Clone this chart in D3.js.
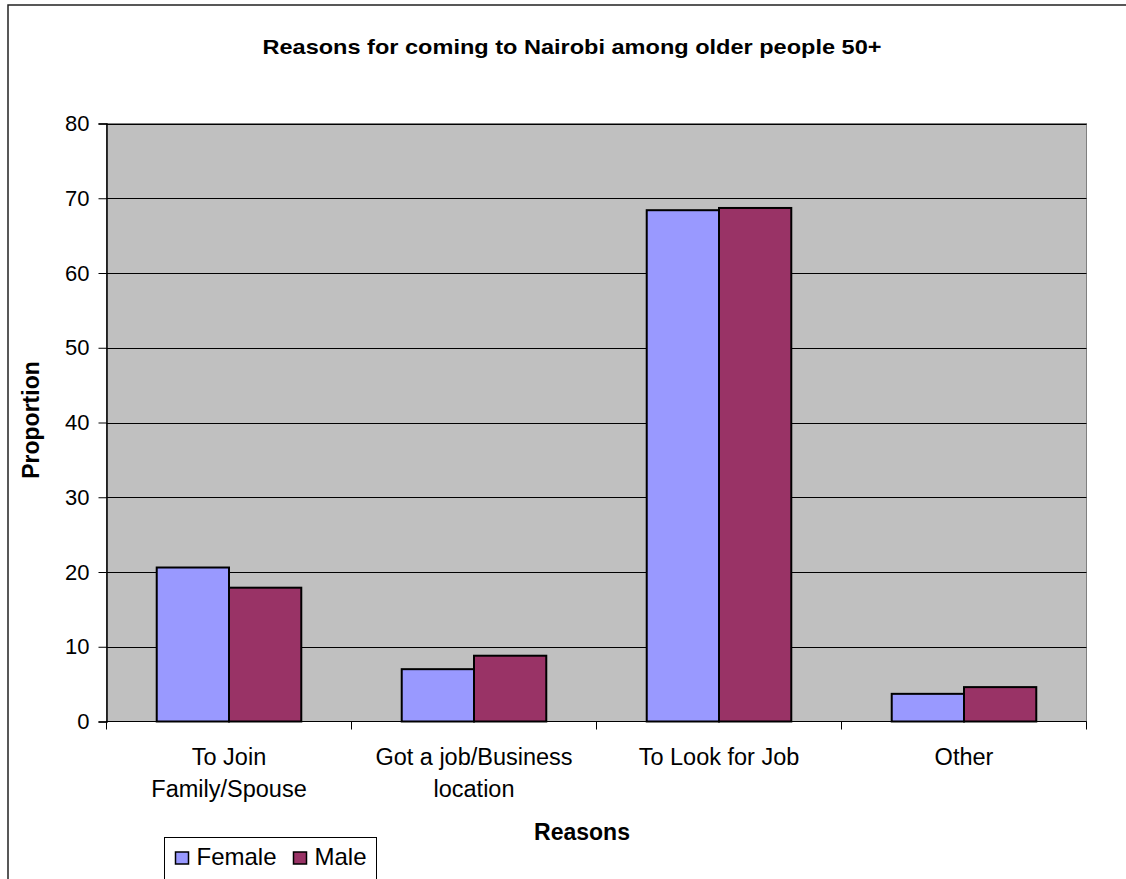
<!DOCTYPE html>
<html>
<head>
<meta charset="utf-8">
<script src="https://cdn.jsdelivr.net/npm/d3@7"></script>
<style>
  html, body { margin: 0; padding: 0; background: #fff; }
  svg { display: block; font-family: "Liberation Sans", Arial, sans-serif; }
</style>
</head>
<body>
<svg id="chart" width="1126" height="879"></svg>
<script>
// Reasons for coming to Nairobi, by sex (proportion, %)
const categories = [["To Join", "Family/Spouse"], ["Got a job/Business", "location"], ["To Look for Job"], ["Other"]];
const seriesNames = ["Female", "Male"];
const femaleValues = [20.6, 7.0, 68.4, 3.7];
const maleValues = [17.9, 8.8, 68.7, 4.6];
const yTicks = [0, 10, 20, 30, 40, 50, 60, 70, 80];
const colors = ["#9999ff", "#993366"];

const svg = d3.select("#chart");
const plot = { left: 106.5, top: 123.5, right: 1086.5, bottom: 721.5 };

// Outer chart frame
svg.append("rect")
  .attr("x", 8).attr("y", 5)
  .attr("width", 1126).attr("height", 900)
  .attr("fill", "#fff").attr("stroke", "#222").attr("stroke-width", 1.5);

const x = d3.scaleBand()
  .domain(d3.range(categories.length))
  .range([plot.left, plot.right]);
const xInner = d3.scaleBand()
  .domain(seriesNames)
  .range([0, x.bandwidth() * 0.59]);
const y = d3.scaleLinear().domain([0, 80]).range([plot.bottom, plot.top]);

// Plot background
svg.append("rect")
  .attr("x", plot.left).attr("y", plot.top)
  .attr("width", plot.right - plot.left).attr("height", plot.bottom - plot.top)
  .attr("fill", "#c0c0c0").attr("stroke", "#808080").attr("stroke-width", 1);

// Gridlines
svg.append("g").selectAll("line")
  .data(yTicks.filter(t => t > 0))
  .join("line")
  .attr("x1", plot.left).attr("x2", plot.right)
  .attr("y1", d => Math.round(y(d)) + 0.5).attr("y2", d => Math.round(y(d)) + 0.5)
  .attr("stroke", "#000").attr("stroke-width", 1);

// Y axis
const yAxis = svg.append("g")
  .attr("transform", `translate(${plot.left},0)`)
  .call(d3.axisLeft(y).tickValues(yTicks).tickSize(8).tickPadding(9));
yAxis.attr("font-size", null).attr("font-family", null);
yAxis.select(".domain").attr("stroke", "#000").attr("stroke-width", 1.5);
yAxis.selectAll(".tick line").attr("stroke", "#000");
yAxis.selectAll(".tick text")
  .attr("font-size", 22).attr("fill", "#000");

// X axis
const xAxisG = svg.append("g").attr("transform", `translate(0,${plot.bottom})`);
xAxisG.append("line")
  .attr("x1", plot.left).attr("x2", plot.right)
  .attr("y1", 0).attr("y2", 0)
  .attr("stroke", "#000").attr("stroke-width", 1.2);
xAxisG.selectAll("line.tk")
  .data(d3.range(categories.length + 1))
  .join("line").attr("class", "tk")
  .attr("x1", i => plot.left + i * x.step()).attr("x2", i => plot.left + i * x.step())
  .attr("y1", 0).attr("y2", 8)
  .attr("stroke", "#000").attr("stroke-width", 1);

// Category labels
svg.append("g").selectAll("text")
  .data(categories)
  .join("text")
  .attr("text-anchor", "middle")
  .attr("font-size", 23.5).attr("fill", "#000")
  .attr("transform", (d, i) => `translate(${x(i) + x.bandwidth() / 2},765)`)
  .each(function (lines) {
    d3.select(this).selectAll("tspan").data(lines).join("tspan")
      .attr("x", 0).attr("dy", (l, j) => j === 0 ? 0 : 32).text(l => l);
  });

// Bars
const series = [femaleValues, maleValues];
const groupOffset = (x.bandwidth() - xInner.range()[1]) / 2;
seriesNames.forEach((name, s) => {
  svg.append("g").selectAll("rect")
    .data(series[s])
    .join("rect")
    .attr("x", (d, i) => x(i) + groupOffset + xInner(name))
    .attr("y", d => y(d))
    .attr("width", xInner.bandwidth())
    .attr("height", d => plot.bottom - y(d))
    .attr("fill", colors[s])
    .attr("stroke", "#000").attr("stroke-width", 2);
});

// Title
svg.append("text")
  .attr("x", 572).attr("y", 54)
  .attr("text-anchor", "middle")
  .attr("font-size", 21).attr("font-weight", "bold")
  .attr("textLength", 619).attr("lengthAdjust", "spacingAndGlyphs")
  .text("Reasons for coming to Nairobi among older people 50+");

// Axis titles
svg.append("text")
  .attr("transform", "translate(39,420) rotate(-90)")
  .attr("text-anchor", "middle")
  .attr("font-size", 23).attr("font-weight", "bold")
  .text("Proportion");
svg.append("text")
  .attr("x", 582).attr("y", 840)
  .attr("text-anchor", "middle")
  .attr("font-size", 23).attr("font-weight", "bold")
  .text("Reasons");

// Legend
const lg = svg.append("g");
lg.append("rect")
  .attr("x", 164.5).attr("y", 837.5)
  .attr("width", 212).attr("height", 60)
  .attr("fill", "#fff").attr("stroke", "#000").attr("stroke-width", 1);
const legendItems = [{ name: "Female", x: 175.5 }, { name: "Male", x: 293.5 }];
legendItems.forEach((it, s) => {
  lg.append("rect")
    .attr("x", it.x).attr("y", 852)
    .attr("width", 13).attr("height", 12)
    .attr("fill", colors[s]).attr("stroke", "#000").attr("stroke-width", 1.5);
  lg.append("text")
    .attr("x", it.x + 21).attr("y", 865)
    .attr("font-size", 24).attr("fill", "#000")
    .text(it.name);
});
</script>
</body>
</html>
